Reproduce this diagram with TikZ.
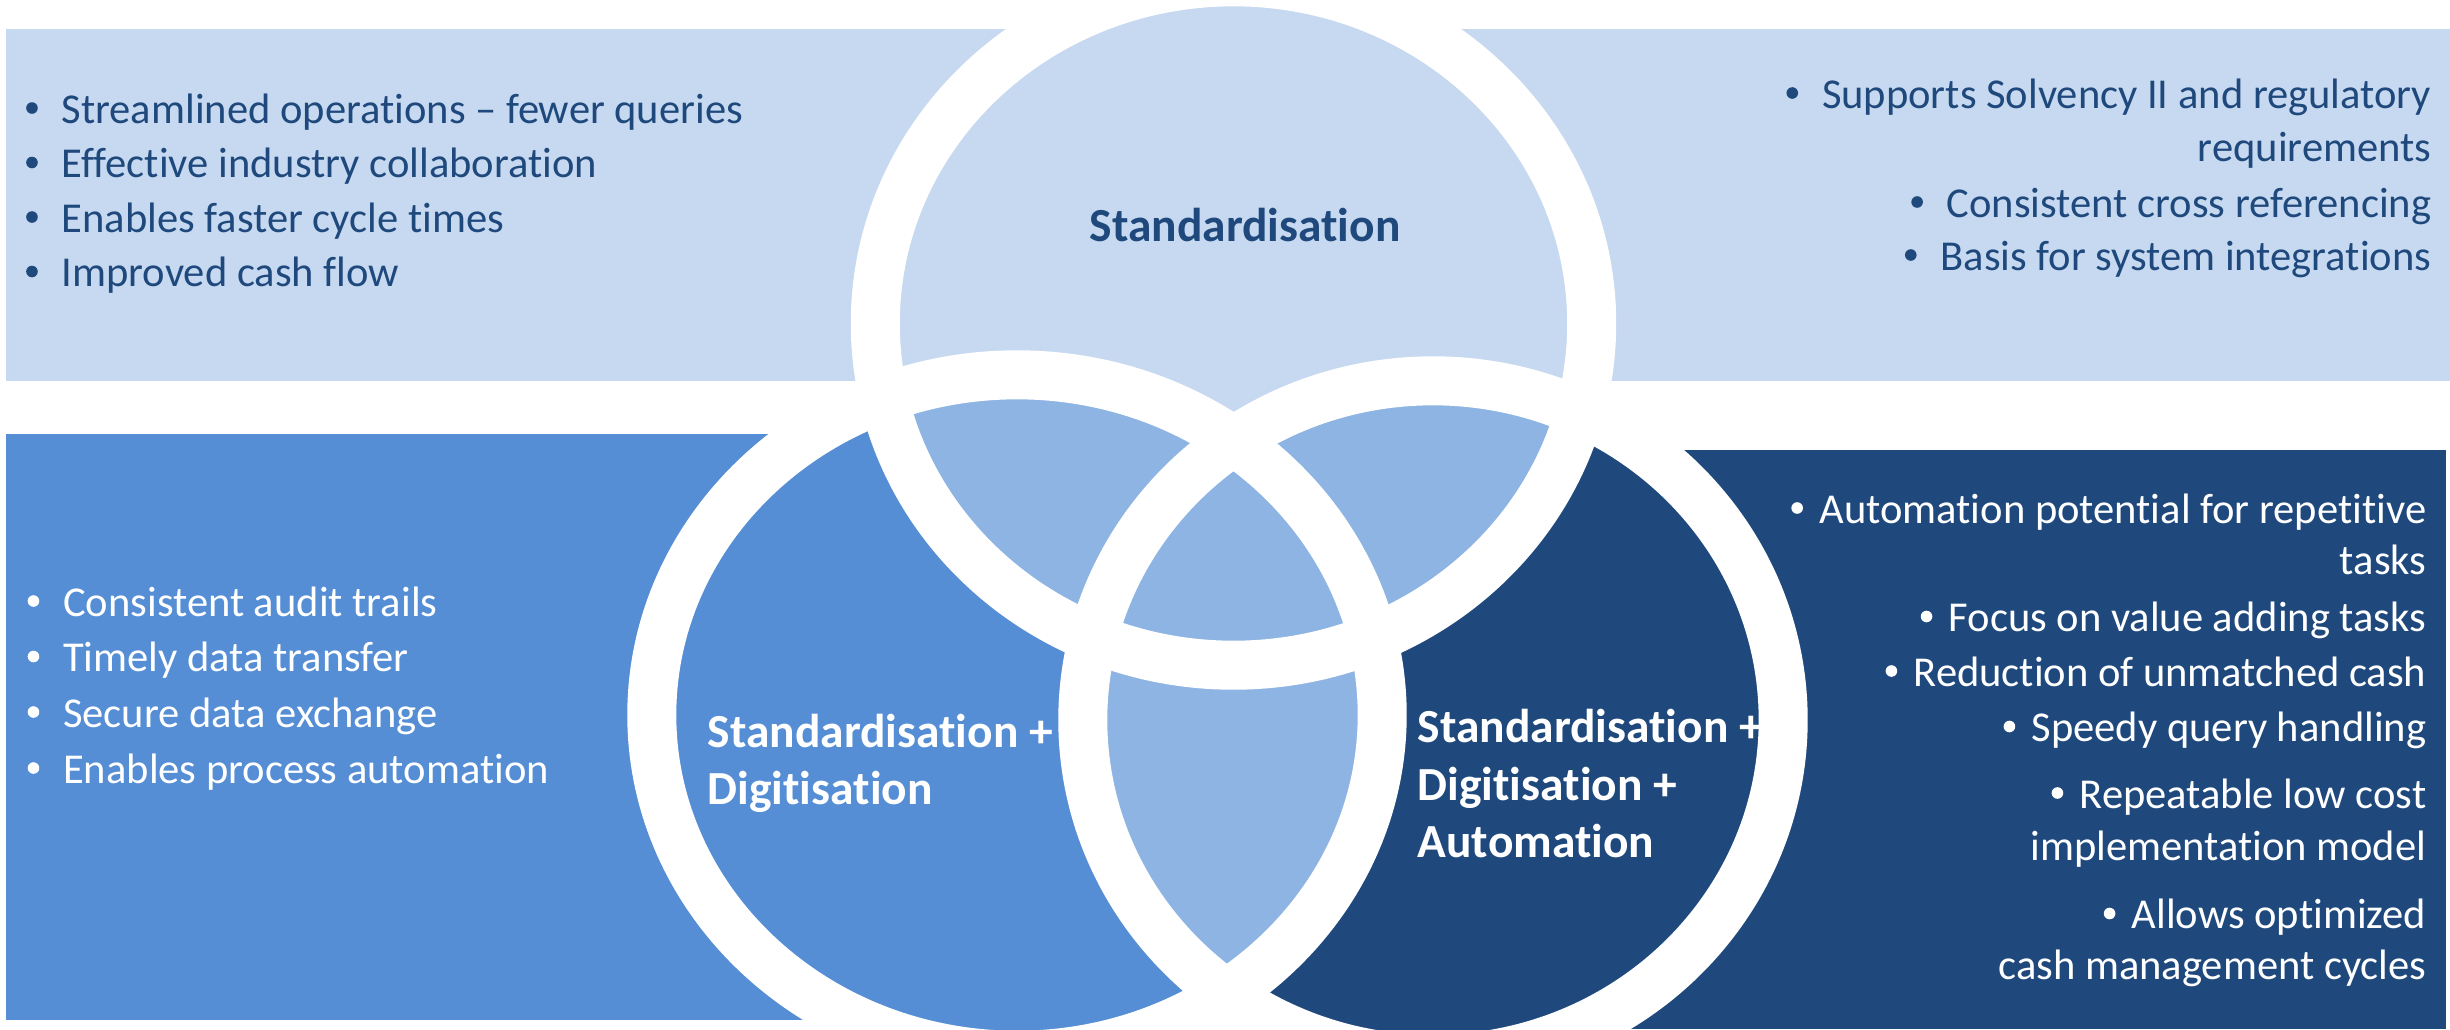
\documentclass[tikz,border=0pt]{standalone}
\usepackage{fontspec}
\setmainfont{Carlito}[Ligatures=NoCommon]
\definecolor{pale}{HTML}{C6D9F0}
\definecolor{mid}{HTML}{558ED5}
\definecolor{dark}{HTML}{1F497D}
\definecolor{lap}{HTML}{8EB4E3}
\tikzset{
  txt/.style={inner sep=0pt, font=\fontsize{12.1}{14}\selectfont},
  lab/.style={inner sep=0pt, font=\fontsize{13.5}{16}\selectfont\bfseries},
  ring/.style={draw=white, line width=0.49cm},
  lbul/.style={xshift=-0.29cm, yshift=0.15cm},
  sbul/.style={xshift=-0.215cm, yshift=0.15cm},
}
\newcommand\dotr{0.058cm}
\begin{document}
\begin{tikzpicture}[x=0.01cm,y=-0.01cm]
\useasboundingbox (0,0) rectangle (2450,1029);
% boxes
\fill[pale] (6,29) rectangle (1100,381);
\fill[pale] (1350,29) rectangle (2450,381);
\fill[mid] (6,434) rectangle (1000,1020);
\fill[dark] (1600,450) rectangle (2446,1029);
% centres
\coordinate (T) at (1233.5,323.5);
\coordinate (L) at (1017,715);
\coordinate (R) at (1433,720);
% fills
\fill[pale] (T) ellipse [x radius=3.58cm, y radius=3.415cm];
\fill[mid] (L) ellipse [x radius=3.65cm, y radius=3.40cm];
\fill[dark] (R) ellipse [x radius=3.50cm, y radius=3.39cm];
% overlaps
\begin{scope}
  \clip (T) ellipse [x radius=3.58cm, y radius=3.415cm];
  \fill[lap] (L) ellipse [x radius=3.65cm, y radius=3.40cm];
  \fill[lap] (R) ellipse [x radius=3.50cm, y radius=3.39cm];
\end{scope}
\begin{scope}
  \clip (L) ellipse [x radius=3.65cm, y radius=3.40cm];
  \fill[lap] (R) ellipse [x radius=3.50cm, y radius=3.39cm];
\end{scope}
% rings
\draw[ring] (T) ellipse [x radius=3.58cm, y radius=3.415cm];
\draw[ring] (L) ellipse [x radius=3.65cm, y radius=3.40cm];
\draw[ring] (R) ellipse [x radius=3.50cm, y radius=3.39cm];
% circle labels
\node[lab, text=dark, anchor=base west] (lt) at (1089,241) {Standardisation};
\node[lab, text=white, anchor=base west] (lbl1) at (707,747) {Standardisation +};
\node[lab, text=white, anchor=base west] (lbl2) at (707,804) {Digitisation};
\node[lab, text=white, anchor=base west] (lbr1) at (1417,742) {Standardisation +};
\node[lab, text=white, anchor=base west] (lbr2) at (1417,800.5) {Digitisation +};
\node[lab, text=white, anchor=base west] (lbr3) at (1417,857) {Automation};
% top-left list
\node[txt, text=dark, anchor=base west] (tl1) at (61,123) {Streamlined operations – fewer queries};
\node[txt, text=dark, anchor=base west] (tl2) at (61,177.5) {Effective industry collaboration};
\node[txt, text=dark, anchor=base west] (tl3) at (61,232) {Enables faster cycle times};
\node[txt, text=dark, anchor=base west] (tl4) at (61,286.5) {Improved cash flow};
\foreach \n in {tl1,tl2,tl3,tl4} \fill[dark] ([lbul]\n.base west) circle (\dotr);
% top-right list
\node[txt, text=dark, anchor=base east] (tr1) at (2432,108) {Supports Solvency II and regulatory};
\node[txt, text=dark, anchor=base east] (tr2) at (2432,161) {requirements};
\node[txt, text=dark, anchor=base east] (tr3) at (2432,217) {Consistent cross referencing};
\node[txt, text=dark, anchor=base east] (tr4) at (2432,270) {Basis for system integrations};
\foreach \n in {tr1,tr3,tr4} \fill[dark] ([lbul]\n.base west) circle (\dotr);
% bottom-left list
\node[txt, text=white, anchor=base west] (bl1) at (62.5,616) {Consistent audit trails};
\node[txt, text=white, anchor=base west] (bl2) at (62.5,671.5) {Timely data transfer};
\node[txt, text=white, anchor=base west] (bl3) at (62.5,727) {Secure data exchange};
\node[txt, text=white, anchor=base west] (bl4) at (62.5,783) {Enables process automation};
\foreach \n in {bl1,bl2,bl3,bl4} \fill[white] ([lbul]\n.base west) circle (\dotr);
% bottom-right list
\node[txt, text=white, anchor=base east] (br1) at (2427,523) {Automation potential for repetitive};
\node[txt, text=white, anchor=base east] (br2) at (2427,574.5) {tasks};
\node[txt, text=white, anchor=base east] (br3) at (2427,631.5) {Focus on value adding tasks};
\node[txt, text=white, anchor=base east] (br4) at (2427,686) {Reduction of unmatched cash};
\node[txt, text=white, anchor=base east] (br5) at (2427,741.5) {Speedy query handling};
\node[txt, text=white, anchor=base east] (br6) at (2427,808) {Repeatable low cost};
\node[txt, text=white, anchor=base east] (br7) at (2427,860) {implementation model};
\node[txt, text=white, anchor=base east] (br8) at (2427,928.5) {Allows optimized};
\node[txt, text=white, anchor=base east] (br9) at (2427,979) {cash management cycles};
\foreach \n in {br1,br3,br4,br5,br6,br8} \fill[white] ([sbul]\n.base west) circle (\dotr);
\end{tikzpicture}
\end{document}
